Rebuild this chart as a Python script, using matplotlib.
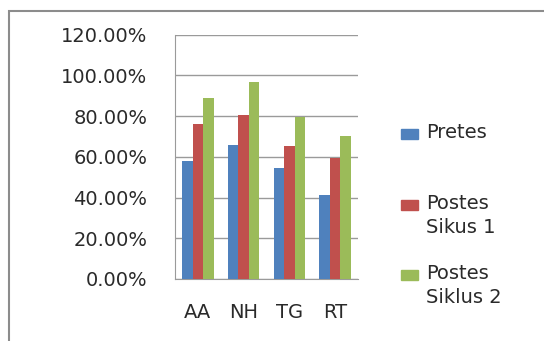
import matplotlib.pyplot as plt
from matplotlib.patches import Rectangle
import numpy as np

categories = ['AA', 'NH', 'TG', 'RT']
series = ['Pretes', 'Postes\nSikus 1', 'Postes\nSiklus 2']
pretes = [58.0, 65.6, 54.7, 41.1]
postes1 = [76.3, 80.4, 65.1, 59.6]
postes2 = [88.9, 96.9, 79.5, 70.2]
colors = ['#4F81BD', '#C0504D', '#9BBB59']
yticks = [0, 20, 40, 60, 80, 100, 120]

plt.rcParams['font.family'] = ['DejaVu Sans']

fig = plt.figure(figsize=(5.44, 3.41), dpi=100)
# outer frame (cut off at right/bottom like the screenshot)
fig.patches.append(Rectangle((9/544, -0.1), 1.2, 1 - 11/341 + 0.1, transform=fig.transFigure,
                             fill=False, edgecolor='#8c8c8c', lw=1.5))

ax = fig.add_axes([175/544, 1 - 279/341, 183/544, 244.3/341])
x = np.arange(len(categories))
w = 0.23
for i, vals in enumerate([pretes, postes1, postes2]):
    ax.bar(x + (i - 1) * w, vals, w, color=colors[i], zorder=3)

ax.set_xlim(-0.5, 3.5)
ax.set_ylim(0, 120)
ax.set_yticks(yticks)
ax.set_yticklabels([f'{v:.2f}%' for v in yticks], fontsize=14, color='#2a2a2a')
ax.set_xticks(x)
ax.set_xticklabels(categories, fontsize=14, color='#2a2a2a')
ax.tick_params(axis='y', length=0, pad=20)
ax.tick_params(axis='x', length=0, pad=17)
ax.grid(axis='y', color='#9a9a9a', lw=1, zorder=0)
for s in ['top', 'right']:
    ax.spines[s].set_visible(False)
ax.spines['left'].set_color('#9a9a9a')
ax.spines['bottom'].set_color('#9a9a9a')

# legend
leg_y = [134, 205, 275]
for lab, c, yy in zip(series, colors, leg_y):
    fig.patches.append(Rectangle((401/544, 1 - (yy + 5)/341), 17/544, 10/341,
                                 transform=fig.transFigure, color=c))
    fig.text(426/544, 1 - (yy - 11)/341, lab, fontsize=14, color='#2a2a2a',
             va='top', ha='left', linespacing=1.32)

fig.savefig('out.png', dpi=100)
